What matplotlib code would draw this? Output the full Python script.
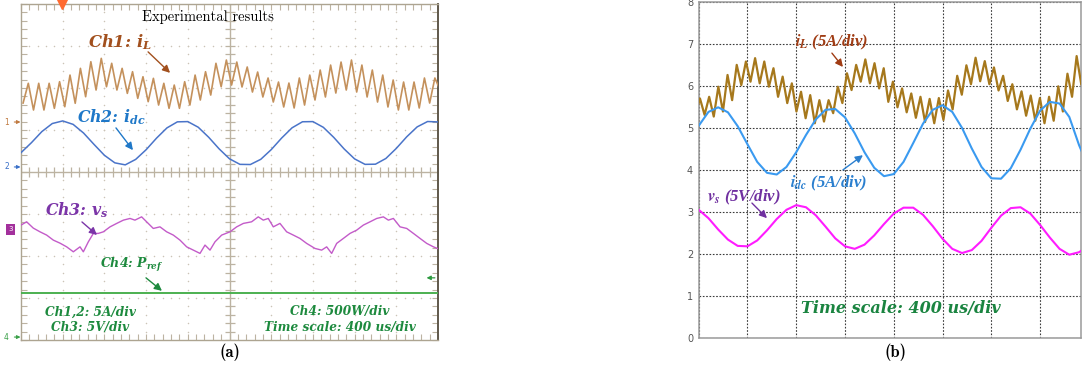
import numpy as np
import matplotlib.pyplot as plt
from matplotlib.ticker import MultipleLocator

# ---------------- (a) scope capture ----------------
# inductor current, valleys / peaks of the switching ripple (A), 0.05 ms apart
il_a_valleys = [2.26, 1.43, 1.43, 1.63, 1.82, 2.23, 3.01, 3.81, 4.20, 3.81,
                3.41, 2.82, 2.42, 2.02, 1.63, 1.63, 2.02, 2.62, 3.21, 4.20,
                4.40, 4.17, 3.57, 2.98, 2.38, 1.79, 1.67, 2.02, 2.62, 2.98,
                3.45, 3.81, 3.57, 2.98, 2.38, 1.79, 1.43, 1.43, 1.67, 2.26,
                3.81]
il_a_peaks = [4.61, 4.61, 4.61, 4.80, 5.59, 6.39, 7.18, 7.58, 6.99, 6.39,
              5.99, 5.39, 5.20, 4.61, 4.40, 4.80, 5.59, 5.99, 6.99, 7.38,
              7.14, 6.55, 5.95, 5.24, 4.76, 4.64, 5.24, 5.59, 6.19, 6.78,
              7.14, 7.38, 6.78, 6.19, 5.59, 5.00, 4.76, 4.76, 5.24, 5.24]
# dc current (A), every 0.1 ms
idc_a = [1.70, 2.89, 4.21, 5.17, 5.48, 5.07, 4.04, 2.69, 1.39, 0.49,
         0.25, 0.90, 2.05, 3.43, 4.65, 5.37, 5.40, 4.73, 3.54, 2.16,
         0.97, 0.31, 0.29, 0.91, 2.06, 3.44, 4.66, 5.38, 5.40, 4.72,
         3.52, 2.14, 0.96, 0.31, 0.33, 1.01, 2.21, 3.59, 4.77, 5.41,
         5.36]
# source voltage (V)
vs_a_t = [0.00, 0.054, 0.118, 0.182, 0.246, 0.310, 0.374, 0.438, 0.502, 0.566,
          0.598, 0.646, 0.694, 0.742, 0.790, 0.854, 0.918, 0.982, 1.046, 1.093,
          1.157, 1.205, 1.269, 1.333, 1.397, 1.461, 1.525, 1.589, 1.653, 1.717,
          1.765, 1.813, 1.861, 1.925, 2.005, 2.069, 2.133, 2.212, 2.276, 2.324,
          2.372, 2.420, 2.484, 2.548, 2.612, 2.676, 2.740, 2.820, 2.884, 2.932,
          2.980, 3.028, 3.092, 3.156, 3.220, 3.284, 3.348, 3.412, 3.476, 3.524,
          3.572, 3.636, 3.700, 3.764, 3.828, 3.892, 3.956, 3.994]
vs_a = [0.48, 0.87, 0.12, -0.32, -0.71, -1.31, -1.67, -2.11, -2.70, -2.11,
        -2.70, -1.51, -0.51, -0.51, -0.32, 0.27, 0.68, 1.07, 1.27, 1.07,
        1.46, 0.87, 0.08, 0.27, -0.32, -0.71, -1.31, -2.11, -2.50, -2.89,
        -1.90, -2.50, -1.51, -0.71, -0.32, 0.27, 0.68, 0.87, 1.46, 1.07,
        1.27, 0.27, 0.68, -0.32, -0.71, -1.11, -1.70, -2.30, -2.50, -2.11,
        -2.89, -1.70, -1.11, -0.51, -0.12, 0.48, 0.87, 1.27, 1.46, 1.07,
        1.27, 0.27, 0.08, -0.51, -1.11, -1.70, -2.11, -2.30]
p_ref_a = [520, 520]  # W

# ---------------- (b) simulation ----------------
il_b_valleys = [5.35, 5.32, 5.28, 5.40, 5.67, 6.03, 6.11, 6.07, 5.99, 5.75,
                5.60, 5.40, 5.24, 5.12, 5.16, 5.36, 5.60, 5.91, 6.11, 6.07,
                5.95, 5.63, 5.50, 5.38, 5.25, 5.15, 5.12, 5.20, 5.45, 5.80,
                6.05, 6.12, 6.05, 5.90, 5.65, 5.45, 5.30, 5.18, 5.12, 5.18,
                5.40, 5.75, 6.05]
il_b_peaks = [5.71, 5.75, 5.99, 6.27, 6.51, 6.59, 6.67, 6.59, 6.43, 6.23,
              6.07, 5.87, 5.79, 5.67, 5.67, 5.99, 6.31, 6.51, 6.64, 6.55,
              6.43, 6.11, 5.95, 5.83, 5.75, 5.70, 5.72, 5.90, 6.25, 6.50,
              6.68, 6.60, 6.45, 6.25, 6.05, 5.88, 5.78, 5.72, 5.75, 6.00,
              6.30, 6.72]
idc_b = [5.06, 5.39, 5.50, 5.38, 5.05, 4.62, 4.20, 3.94, 3.90, 4.08,
         4.43, 4.84, 5.21, 5.44, 5.46, 5.26, 4.88, 4.43, 4.06, 3.86,
         3.91, 4.20, 4.65, 5.11, 5.44, 5.55, 5.39, 5.01, 4.52, 4.08,
         3.81, 3.80, 4.05, 4.49, 4.99, 5.42, 5.63, 5.59, 5.27, 4.60,
         4.05]
vs_b = [3.06, 2.86, 2.59, 2.35, 2.20, 2.19, 2.33, 2.57, 2.84, 3.06,
        3.17, 3.12, 2.93, 2.66, 2.38, 2.19, 2.13, 2.23, 2.45, 2.72,
        2.97, 3.11, 3.11, 2.94, 2.67, 2.37, 2.13, 2.03, 2.10, 2.32,
        2.63, 2.92, 3.10, 3.12, 2.97, 2.70, 2.40, 2.13, 1.99, 2.05,
        2.20]


def zigzag(valleys, peaks):
    out = [valleys[0]]
    for p, v in zip(peaks, valleys[1:]):
        out += [p, v]
    return np.array(out)


il_a = zigzag(il_a_valleys, il_a_peaks)
t_il_a = 0.02 + 0.05 * np.arange(len(il_a))
t_idc_a = 0.1 * np.arange(len(idc_a))
il_b = zigzag(il_b_valleys, il_b_peaks)
t_il_b = -0.034 + 0.0471 * np.arange(len(il_b))
t_b = 0.1 * np.arange(len(idc_b))

# channel ground levels (div) and scales (unit/div)
CH1, CH2, CH3, CH4 = 1.19, 0.12, -1.36, -3.93
A_DIV, V_DIV, W_DIV = 5.0, 5.0, 500.0

grid_col = '#bcb3a2'
dot_col = '#cbc4b6'
c_il, c_idc, c_vs, c_p = '#c4915c', '#4a74c9', '#c35bc9', '#4cb050'
lab_font = dict(fontfamily='DejaVu Serif', fontweight='bold', fontstyle='italic',
                math_fontfamily='dejavuserif')

fig = plt.figure(figsize=(10.82, 3.71), dpi=100)
ax1 = fig.add_axes([21 / 1082, 31 / 371, 417 / 1082, 336 / 371])
ax2 = fig.add_axes([698.7 / 1082, 32.7 / 371, 382.3 / 1082, 336 / 371])

# ---- scope screen ----
ax1.set_xlim(0, 4)
ax1.set_ylim(-4, 4)
ax1.xaxis.set_major_locator(MultipleLocator(0.4))
ax1.xaxis.set_minor_locator(MultipleLocator(0.08))
ax1.yaxis.set_major_locator(MultipleLocator(1))
ax1.yaxis.set_minor_locator(MultipleLocator(0.2))
ax1.tick_params(which='both', direction='in', length=4, width=0.8, color=grid_col,
                top=True, right=True, labelbottom=False, labelleft=False)
for s in ax1.spines.values():
    s.set_color('#ada491')
    s.set_linewidth(1.0)
ax1.spines['right'].set_color('#5f584b')
ax1.spines['right'].set_linewidth(1.4)

dots_y = np.arange(-4, 4.01, 0.2)
dots_x = np.arange(0, 4.01, 0.08)
for gx in [0.4, 0.8, 1.2, 1.6, 2.4, 2.8, 3.2, 3.6]:
    ax1.plot(np.full(len(dots_y), gx), dots_y, ls='none', marker='o', ms=1.1,
             mew=0, color=dot_col, zorder=1)
for gy in [-3, -2, -1, 1, 2, 3]:
    ax1.plot(dots_x, np.full(len(dots_x), gy), ls='none', marker='o', ms=1.1,
             mew=0, color=dot_col, zorder=1)
ax1.axhline(0, color=grid_col, lw=1.0, zorder=1)
ax1.axvline(2.0, color=grid_col, lw=1.0, zorder=1)
ax1.plot(dots_x, np.zeros(len(dots_x)), ls='none', marker='|', ms=7, mew=0.9,
         color=grid_col, zorder=1)
ax1.plot(np.full(len(dots_y), 2.0), dots_y, ls='none', marker='_', ms=7, mew=0.9,
         color=grid_col, zorder=1)

ax1.plot(t_il_a, CH1 + il_a / A_DIV, color=c_il, lw=1.2, zorder=3)
ax1.plot(t_idc_a, CH2 + np.array(idc_a) / A_DIV, color=c_idc, lw=1.1, zorder=3)
ax1.plot(vs_a_t, CH3 + np.array(vs_a) / V_DIV, color=c_vs, lw=1.0, zorder=3)
ax1.plot([0, 4], CH4 + np.array(p_ref_a) / W_DIV, color=c_p, lw=1.4, zorder=3)

# channel markers on the left edge
for lvl, txt, col in [(CH1, '1', '#c07a40'), (CH2, '2', '#3a70c8'), (CH4, '4', '#3aa048')]:
    ax1.annotate(txt, xy=(-0.005, lvl), xytext=(-0.14, lvl), fontsize=5.5, color=col,
                 va='center', ha='center', annotation_clip=False,
                 arrowprops=dict(arrowstyle='-|>', color=col, lw=0.8,
                                 mutation_scale=5, shrinkA=2, shrinkB=0))
ax1.text(-0.1, CH3, '3', fontsize=5, color='white', ha='center', va='center',
         clip_on=False, bbox=dict(boxstyle='square,pad=0.35', fc='#a3309c', ec='none'))
ax1.plot([0.393], [4.0], marker='v', ms=7, color='#ff6a30', clip_on=False, zorder=5)
ax1.annotate('', xy=(3.89, -2.52), xytext=(3.97, -2.52),
             arrowprops=dict(arrowstyle='-|>', color='#2e9a40', lw=0.9,
                             mutation_scale=6, shrinkA=0, shrinkB=0))

ax1.text(1.79, 3.69, 'Experimental results', fontfamily='cmr10', fontsize=10.5,
         ha='center', va='center', zorder=6)


def label(ax, x, y, s, col, size, head, tail, **kw):
    ax.text(x, y, s, color=col, fontsize=size, ha='left', va='center', zorder=6, **kw)
    if head is not None:
        ax.annotate('', xy=head, xytext=tail,
                    arrowprops=dict(arrowstyle='-|>', color=col, lw=1.0,
                                    mutation_scale=11, shrinkA=0, shrinkB=0))


label(ax1, 0.643, 3.10, 'Ch1: $\\mathbfit{i_L}$', '#a2501e', 11.8,
      (1.43, 2.36), (1.219, 2.86), **lab_font)
label(ax1, 0.537, 1.31, 'Ch2: $\\mathbfit{i_{dc}}$', '#1f78c8', 11.3,
      (1.074, 0.52), (0.911, 1.05), **lab_font)
label(ax1, 0.230, -0.905, 'Ch3: $\\mathbfit{v_s}$', '#7b35a8', 11.3,
      (0.729, -1.50), (0.585, -1.19), **lab_font)
label(ax1, 0.758, -2.21, 'Ch4: $\\mathbfit{P_{ref}}$', '#1d8a3e', 9,
      (1.352, -2.83), (1.199, -2.52), **lab_font)
for x, y, s in [(0.662, -3.33, 'Ch1,2: 5A/div'), (0.662, -3.71, 'Ch3: 5V/div'),
                (3.06, -3.33, 'Ch4: 500W/div'), (3.06, -3.71, 'Time scale: 400 us/div')]:
    ax1.text(x, y, s, color='#1d8a3e', fontsize=8.7, ha='center', va='center',
             fontfamily='DejaVu Serif', fontweight='bold', fontstyle='italic', zorder=6)

# ---- simulation plot ----
ax2.plot(t_il_b, il_b, color='#a6781c', lw=1.6, zorder=3)
ax2.plot(t_b, idc_b, color='#3a9af0', lw=1.5, zorder=4)
ax2.plot(t_b, vs_b, color='#ff1cff', lw=1.5, zorder=4)
ax2.set_xlim(0, 3.92)
ax2.set_ylim(0, 8)
ax2.set_xticks(np.arange(0, 3.92, 0.5))
ax2.set_yticks(range(0, 9))
ax2.grid(True, ls=(0, (1.5, 1.5)), color='#3a3a3a', lw=0.8)
ax2.tick_params(length=0, labelsize=7, labelcolor='#555555', pad=4,
                labelbottom=False)
for s in ax2.spines.values():
    s.set_color('#9a9a9a')
    s.set_linewidth(1.1)

b_font = dict(fontfamily='Liberation Serif', fontweight='bold', fontstyle='italic',
              math_fontfamily='stix')
label(ax2, 0.987, 7.05, '$\\mathbfit{i_L}$ (5A/div)', '#a03c14', 12,
      (1.479, 6.46), (1.366, 6.79), **b_font)
label(ax2, 0.935, 3.70, '$\\mathbfit{i_{dc}}$ (5A/div)', '#2a7fcf', 12,
      (1.684, 4.36), (1.479, 4.01), **b_font)
label(ax2, 0.085, 3.36, '$\\mathbfit{v_s}$ (5V/div)', '#7030a0', 12,
      (0.70, 2.86), (0.546, 3.22), **b_font)
ax2.text(2.072, 0.70, 'Time scale: 400 us/div', color='#1a8440', fontsize=11.5,
         ha='center', va='center', fontfamily='DejaVu Serif', fontweight='bold',
         fontstyle='italic', zorder=6)

fig.text(230 / 1082, 19 / 371, '(a)', fontfamily='cmb10', fontsize=12,
         ha='center', va='center')
fig.text(896 / 1082, 19 / 371, '(b)', fontfamily='cmb10', fontsize=12,
         ha='center', va='center')

fig.savefig('out.png', dpi=100)
